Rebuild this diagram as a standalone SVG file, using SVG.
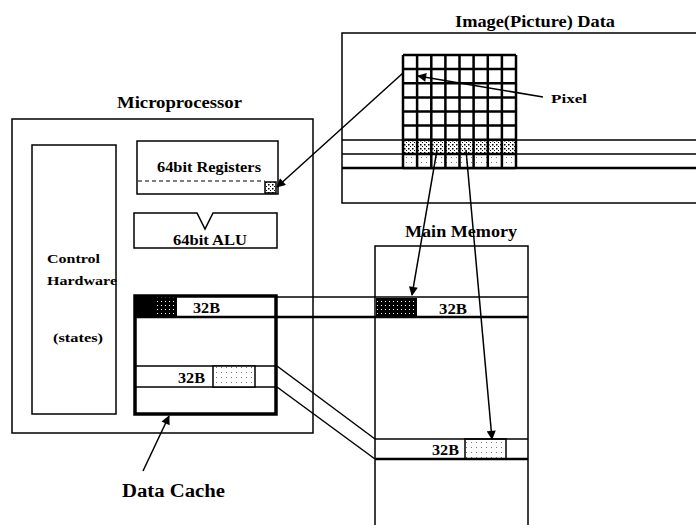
<svg xmlns="http://www.w3.org/2000/svg" width="696" height="525" viewBox="0 0 696 525">
<style>
.t{font-family:"Liberation Serif","Times New Roman",serif;font-weight:bold;fill:#000}
.box{fill:none;stroke:#000;stroke-width:1.5}
.ln{stroke:#000;stroke-width:1.5;fill:none}
.thick{stroke:#000;stroke-width:2.5;fill:none}
.arrow{stroke:#000;stroke-width:1.5;fill:none}
</style>
<defs>
<marker id="ahb" viewBox="0 0 10 10" refX="9" refY="5" markerWidth="14" markerHeight="9" markerUnits="userSpaceOnUse" orient="auto"><path d="M0,0 L10,5 L0,10 z" fill="#000"/></marker>
<pattern id="stip" width="4" height="4" patternUnits="userSpaceOnUse"><rect width="4" height="4" fill="#fff"/><rect x="0" y="0" width="1.5" height="1.5" fill="#000"/><rect x="2" y="2" width="1" height="1" fill="#000"/></pattern>
<pattern id="light" width="5" height="5" patternUnits="userSpaceOnUse"><rect width="5" height="5" fill="#fff"/><rect x="1" y="2" width="1" height="1" fill="#777"/></pattern>
<pattern id="dark" width="4" height="4" patternUnits="userSpaceOnUse"><rect width="4" height="4" fill="#000"/><rect x="1" y="1" width="1" height="1" fill="#fff"/></pattern>
</defs>
<rect width="696" height="525" fill="#fff"/>

<g id="image-data">
<text class="t" x="455" y="27" font-size="16" textLength="160" lengthAdjust="spacingAndGlyphs">Image(Picture) Data</text>
<rect class="box" x="342" y="33" width="360" height="170"/>
<line class="ln" x1="342" y1="140" x2="696" y2="140"/>
<line class="ln" x1="342" y1="154" x2="696" y2="154"/>
<line class="thick" x1="342" y1="168" x2="696" y2="168"/>
<rect x="403" y="140" width="113" height="14" fill="url(#stip)"/>
<rect x="403" y="154" width="113" height="14" fill="url(#light)"/>
<g class="thick" stroke-width="2.2">
<path d="M403,55V168M417.1,55V168M431.3,55V168M445.4,55V168M459.5,55V168M473.6,55V168M487.8,55V168M501.9,55V168M516,55V168"/>
<path d="M403,55H516M403,69.1H516M403,83.3H516M403,97.4H516M403,111.5H516M403,125.6H516M403,139.8H516M403,153.9H516M403,168H516"/>
</g>
</g>

<g id="pixel-label">
<text class="t" x="551" y="103" font-size="13" textLength="36" lengthAdjust="spacingAndGlyphs">Pixel</text>
</g>

<g id="microprocessor">
<text class="t" x="117" y="108" font-size="16" textLength="125" lengthAdjust="spacingAndGlyphs">Microprocessor</text>
<rect class="box" x="12" y="119" width="301" height="314"/>
</g>

<g id="control-hardware">
<rect class="box" x="32" y="145" width="84" height="269"/>
<text class="t" x="47" y="263" font-size="13" textLength="53" lengthAdjust="spacingAndGlyphs">Control</text>
<text class="t" x="47" y="285" font-size="13" textLength="70" lengthAdjust="spacingAndGlyphs">Hardware</text>
<text class="t" x="53" y="342" font-size="13" textLength="50" lengthAdjust="spacingAndGlyphs">(states)</text>
</g>

<g id="registers">
<rect class="box" x="137" y="141" width="141" height="53"/>
<line x1="138" y1="181" x2="265" y2="181" stroke="#000" stroke-width="1.2" stroke-dasharray="4,3"/>
<rect x="265" y="182" width="11" height="11" fill="url(#stip)" stroke="#000" stroke-width="1.5"/>
<text class="t" x="157" y="172" font-size="14" textLength="104" lengthAdjust="spacingAndGlyphs">64bit Registers</text>
</g>

<g id="alu">
<path class="box" d="M134,213H197L205,229L213,213H277V248H134Z"/>
<text class="t" x="173" y="245" font-size="14" textLength="74" lengthAdjust="spacingAndGlyphs">64bit ALU</text>
</g>

<g id="data-cache">
<rect x="135" y="296" width="42" height="20" fill="url(#dark)"/>
<rect x="135" y="296" width="22" height="20" fill="#000"/>
<line class="ln" x1="135" y1="366" x2="277" y2="366"/>
<line class="ln" x1="135" y1="387" x2="277" y2="387"/>
<rect x="213" y="366" width="42" height="21" fill="url(#light)" stroke="#000" stroke-width="1.5"/>
<text class="t" x="193" y="313" font-size="14" textLength="27" lengthAdjust="spacingAndGlyphs">32B</text>
<text class="t" x="178" y="383" font-size="14" textLength="27" lengthAdjust="spacingAndGlyphs">32B</text>
<rect x="135" y="296" width="141" height="118" fill="none" stroke="#000" stroke-width="3.5"/>
<text class="t" x="122" y="497" font-size="18" textLength="103" lengthAdjust="spacingAndGlyphs">Data Cache</text>
</g>

<g id="main-memory">
<text class="t" x="405" y="237" font-size="16" textLength="112" lengthAdjust="spacingAndGlyphs">Main Memory</text>
<path class="box" d="M375,530V246H528V530"/>
<rect x="376" y="298" width="41" height="18" fill="url(#dark)"/>
<rect x="465" y="439" width="41" height="20" fill="url(#light)" stroke="#000" stroke-width="1.5"/>
<line class="ln" x1="375" y1="439" x2="528" y2="439"/>
<line class="thick" x1="375" y1="459" x2="528" y2="459"/>
<text class="t" x="439" y="314" font-size="14" textLength="28" lengthAdjust="spacingAndGlyphs">32B</text>
<text class="t" x="432" y="455" font-size="14" textLength="27" lengthAdjust="spacingAndGlyphs">32B</text>
</g>

<g id="connectors">
<line class="ln" x1="277" y1="297" x2="528" y2="297" stroke-width="2"/>
<line class="thick" x1="135" y1="317" x2="528" y2="317"/>
<line class="ln" x1="277" y1="366" x2="375" y2="439"/>
<line class="ln" x1="277" y1="387" x2="375" y2="459"/>
<line class="arrow" x1="543" y1="97" x2="418" y2="76" marker-end="url(#ahb)" stroke-width="2"/>
<line class="arrow" x1="403" y1="73" x2="277" y2="187" marker-end="url(#ahb)"/>
<line class="arrow" x1="437" y1="150" x2="412" y2="295" marker-end="url(#ahb)"/>
<line class="arrow" x1="466" y1="150" x2="492" y2="439" marker-end="url(#ahb)"/>
<line class="arrow" x1="143" y1="471" x2="169" y2="416" marker-end="url(#ahb)" stroke-width="2.5"/>
</g>
</svg>
